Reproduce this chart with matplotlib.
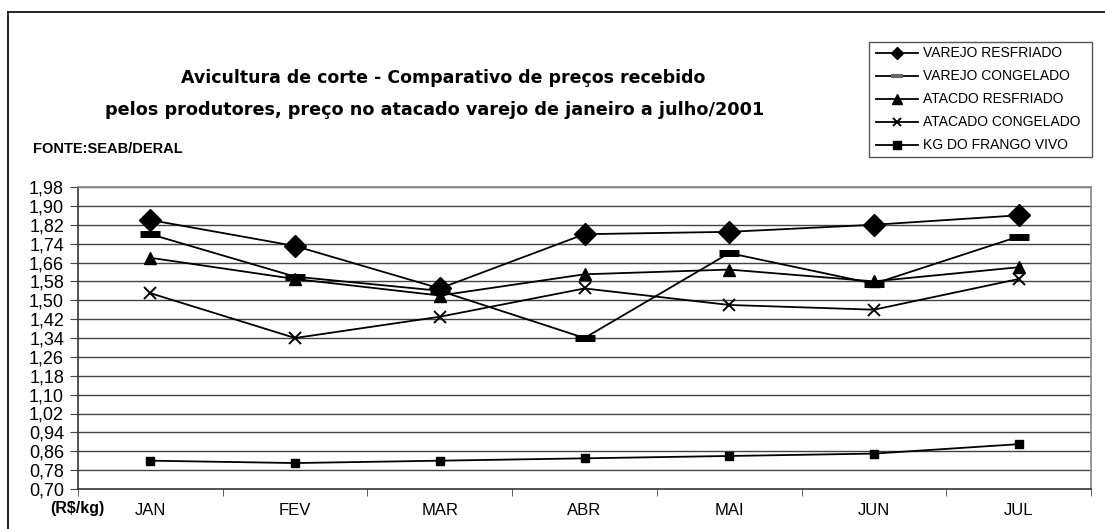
import matplotlib
matplotlib.use("Agg")
import matplotlib.pyplot as plt
from matplotlib.lines import Line2D
from matplotlib.patches import Rectangle
from matplotlib.ticker import FixedLocator, FuncFormatter

months = ["JAN", "FEV", "MAR", "ABR", "MAI", "JUN", "JUL"]
varejo_resfriado = [1.84, 1.73, 1.55, 1.78, 1.79, 1.82, 1.86]
varejo_congelado = [1.78, 1.60, 1.54, 1.34, 1.70, 1.57, 1.77]
atacado_resfriado = [1.68, 1.59, 1.52, 1.61, 1.63, 1.58, 1.64]
atacado_congelado = [1.53, 1.34, 1.43, 1.55, 1.48, 1.46, 1.59]
frango_vivo = [0.82, 0.81, 0.82, 0.83, 0.84, 0.85, 0.89]
series_names = ["VAREJO RESFRIADO", "VAREJO CONGELADO", "ATACDO RESFRIADO",
                "ATACADO CONGELADO", "KG DO FRANGO VIVO"]
yticks = [0.70, 0.78, 0.86, 0.94, 1.02, 1.10, 1.18, 1.26, 1.34, 1.42,
          1.50, 1.58, 1.66, 1.74, 1.82, 1.90, 1.98]

W, H = 1105, 529
fig = plt.figure(figsize=(W / 100, H / 100), dpi=100)
plt.rcParams['font.family'] = ['Liberation Sans', 'DejaVu Sans']

# outer frame (top and left visible)
fig.add_artist(Line2D([8 / W, 1.0], [1 - 12 / H, 1 - 12 / H], transform=fig.transFigure,
                      color='black', lw=1.2))
fig.add_artist(Line2D([8 / W, 8 / W], [1 - 12 / H, 0], transform=fig.transFigure,
                      color='black', lw=1.2))

ax = fig.add_axes([78 / W, 1 - 489 / H, (1091 - 78) / W, (489 - 187) / H])
x = list(range(len(months)))

styles = [
    dict(marker='D', markersize=11, mfc='black', mec='black'),
    dict(marker='_', markersize=15, mew=5, mfc='black', mec='black'),
    dict(marker='^', markersize=9, mfc='black', mec='black'),
    dict(marker='x', markersize=9, mew=1.4, mfc='black', mec='black'),
    dict(marker='s', markersize=6, mfc='black', mec='black'),
]
data = [varejo_resfriado, varejo_congelado, atacado_resfriado, atacado_congelado, frango_vivo]
for vals, st in zip(data, styles):
    ax.plot(x, vals, color='black', lw=1.3, zorder=3, **st)

ax.set_xlim(-0.5, len(months) - 0.5)
ax.set_ylim(0.70, 1.98)
ax.yaxis.set_major_locator(FixedLocator(yticks))
ax.yaxis.set_major_formatter(FuncFormatter(lambda v, p: f"{v:.2f}".replace('.', ',')))
for yv in yticks[1:]:
    ax.axhline(yv, color='#444444', lw=1.0, zorder=1)
ax.set_xticks(x)
ax.set_xticklabels(months)
ax.set_xticks([i - 0.5 for i in range(len(months) + 1)], minor=True)
ax.tick_params(axis='x', which='major', length=0, pad=10, labelsize=12)
ax.tick_params(axis='x', which='minor', length=5, direction='out', color='#444444')
ax.tick_params(axis='y', length=6, direction='out', pad=4, labelsize=13, color='#444444')
for s in ['top', 'right']:
    ax.spines[s].set_color('#888888')
    ax.spines[s].set_linewidth(1.2)
for s in ['left', 'bottom']:
    ax.spines[s].set_color('#333333')
    ax.spines[s].set_linewidth(1.2)

fig.text(77 / W, 1 - 509 / H, "(R$/kg)", ha='center', va='center', fontsize=11.5,
         fontweight='bold')

# titles
fig.text(443 / W, 1 - 78 / H, "Avicultura de corte - Comparativo de preços recebido",
         ha='center', va='center', fontsize=12.5, fontweight='bold', family='DejaVu Sans')
fig.text(435 / W, 1 - 110 / H, "pelos produtores, preço no atacado varejo de janeiro a julho/2001",
         ha='center', va='center', fontsize=12.7, fontweight='bold', family='DejaVu Sans')
fig.text(33 / W, 1 - 149 / H, "FONTE:SEAB/DERAL", ha='left', va='center', fontsize=10.5,
         fontweight='bold')

# legend
fig.add_artist(Rectangle((869 / W, 1 - 157 / H), (1092 - 869) / W, (157 - 42) / H,
                         transform=fig.transFigure, fill=False, ec='#555555', lw=1.0))
leg_styles = [
    dict(marker='D', markersize=6),
    dict(marker='_', markersize=8, mew=3, mec='#666666'),
    dict(marker='^', markersize=7),
    dict(marker='x', markersize=6, mew=1.4),
    dict(marker='s', markersize=6),
]
for i, (name, st) in enumerate(zip(series_names, leg_styles)):
    yy = 1 - (53 + i * 23) / H
    st = dict(st)
    mec = st.pop('mec', 'black')
    fig.add_artist(Line2D([876 / W, 918 / W], [yy, yy], transform=fig.transFigure,
                          color='black', lw=1.3))
    fig.add_artist(Line2D([897 / W], [yy], transform=fig.transFigure, color='black',
                          mfc='black', mec=mec, **st))
    fig.text(923 / W, yy, name, ha='left', va='center', fontsize=10)

fig.savefig("out.png", dpi=100)
